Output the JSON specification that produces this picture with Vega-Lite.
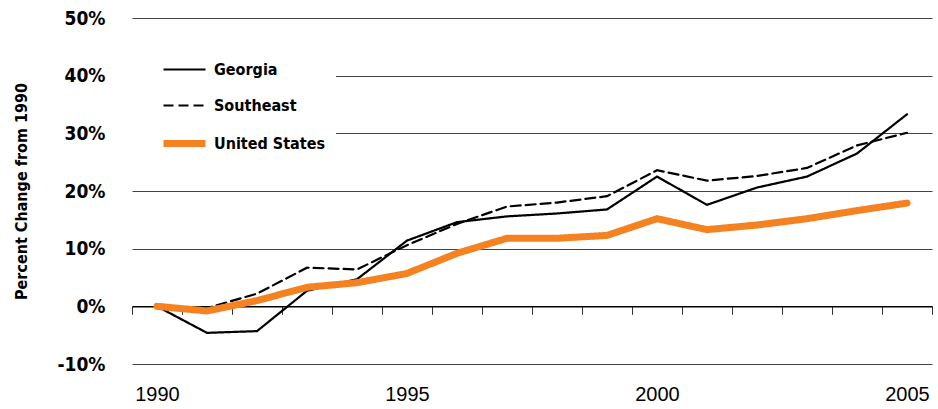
{
  "$schema": "https://vega.github.io/schema/vega-lite/v6.json",
  "width": 800,
  "height": 346,
  "autosize": "none",
  "padding": {"left": 132, "top": 18, "right": 6, "bottom": 45},
  "background": "white",
  "config": {"view": {"stroke": null}},
  "data": {"values": [
    {"year": 1990, "region": "Georgia", "pct": 0},
    {"year": 1991, "region": "Georgia", "pct": -4.6},
    {"year": 1992, "region": "Georgia", "pct": -4.3},
    {"year": 1993, "region": "Georgia", "pct": 2.7},
    {"year": 1994, "region": "Georgia", "pct": 4.7},
    {"year": 1995, "region": "Georgia", "pct": 11.4},
    {"year": 1996, "region": "Georgia", "pct": 14.6},
    {"year": 1997, "region": "Georgia", "pct": 15.6},
    {"year": 1998, "region": "Georgia", "pct": 16.1},
    {"year": 1999, "region": "Georgia", "pct": 16.8},
    {"year": 2000, "region": "Georgia", "pct": 22.5},
    {"year": 2001, "region": "Georgia", "pct": 17.6},
    {"year": 2002, "region": "Georgia", "pct": 20.6},
    {"year": 2003, "region": "Georgia", "pct": 22.5},
    {"year": 2004, "region": "Georgia", "pct": 26.5},
    {"year": 2005, "region": "Georgia", "pct": 33.3},
    {"year": 1990, "region": "Southeast", "pct": 0},
    {"year": 1991, "region": "Southeast", "pct": -0.3},
    {"year": 1992, "region": "Southeast", "pct": 2.2},
    {"year": 1993, "region": "Southeast", "pct": 6.7},
    {"year": 1994, "region": "Southeast", "pct": 6.4},
    {"year": 1995, "region": "Southeast", "pct": 10.6},
    {"year": 1996, "region": "Southeast", "pct": 14.3},
    {"year": 1997, "region": "Southeast", "pct": 17.3},
    {"year": 1998, "region": "Southeast", "pct": 18.0},
    {"year": 1999, "region": "Southeast", "pct": 19.1},
    {"year": 2000, "region": "Southeast", "pct": 23.6},
    {"year": 2001, "region": "Southeast", "pct": 21.8},
    {"year": 2002, "region": "Southeast", "pct": 22.6},
    {"year": 2003, "region": "Southeast", "pct": 24.0},
    {"year": 2004, "region": "Southeast", "pct": 27.9},
    {"year": 2005, "region": "Southeast", "pct": 30.1},
    {"year": 1990, "region": "United States", "pct": 0},
    {"year": 1991, "region": "United States", "pct": -0.8},
    {"year": 1992, "region": "United States", "pct": 1.0},
    {"year": 1993, "region": "United States", "pct": 3.3},
    {"year": 1994, "region": "United States", "pct": 4.1},
    {"year": 1995, "region": "United States", "pct": 5.7},
    {"year": 1996, "region": "United States", "pct": 9.2},
    {"year": 1997, "region": "United States", "pct": 11.8},
    {"year": 1998, "region": "United States", "pct": 11.8},
    {"year": 1999, "region": "United States", "pct": 12.3},
    {"year": 2000, "region": "United States", "pct": 15.2},
    {"year": 2001, "region": "United States", "pct": 13.3},
    {"year": 2002, "region": "United States", "pct": 14.1},
    {"year": 2003, "region": "United States", "pct": 15.2},
    {"year": 2004, "region": "United States", "pct": 16.6},
    {"year": 2005, "region": "United States", "pct": 17.9}
  ]},
  "resolve": {"axis": {"x": "independent"}},
  "layer": [
    {
      "mark": {"type": "rule", "opacity": 0},
      "encoding": {
        "x": {
          "field": "year", "type": "quantitative",
          "scale": {"domain": [1989.5, 2005.5], "nice": false, "zero": false},
          "axis": {
            "orient": "bottom",
            "offset": -57.67,
            "values": [1989.5, 1990.5, 1991.5, 1992.5, 1993.5, 1994.5, 1995.5, 1996.5, 1997.5, 1998.5, 1999.5, 2000.5, 2001.5, 2002.5, 2003.5, 2004.5, 2005.5],
            "labels": false, "title": null, "grid": false,
            "domain": true, "domainColor": "#000", "domainWidth": 1.5,
            "ticks": true, "tickSize": 8, "tickColor": "#333", "tickWidth": 1
          }
        }
      }
    },
    {
      "mark": {"type": "line", "strokeCap": "round", "strokeJoin": "miter"},
      "encoding": {
        "x": {
          "field": "year", "type": "quantitative",
          "scale": {"domain": [1989.5, 2005.5], "nice": false, "zero": false},
          "axis": {
            "orient": "bottom",
            "values": [1990, 1995, 2000, 2005], "format": "d",
            "title": null, "grid": false, "domain": false, "ticks": false,
            "labelPadding": 20, "labelFont": "Liberation Sans", "labelFontSize": 20,
            "labelColor": "#000", "labelFontWeight": "normal"
          }
        },
        "y": {
          "field": "pct", "type": "quantitative",
          "scale": {"domain": [-10, 50], "nice": false, "zero": false},
          "axis": {
            "values": [-10, 0, 10, 20, 30, 40, 50],
            "labelExpr": "datum.value + '%'",
            "title": "Percent Change from 1990",
            "titleFont": "'DejaVu Sans Condensed', Roboto, sans-serif", "titleFontSize": 16, "titleFontWeight": "bold",
            "titleColor": "#000", "titlePadding": 27,
            "labelFont": "'DejaVu Sans Condensed', Roboto, sans-serif", "labelFontSize": 19, "labelFontWeight": "bold",
            "labelColor": "#000", "labelPadding": 27,
            "domain": false, "ticks": false,
            "grid": true, "gridColor": "#444", "gridWidth": 1
          }
        },
        "color": {
          "field": "region", "type": "nominal",
          "scale": {"domain": ["Georgia", "Southeast", "United States"], "range": ["#000000", "#000000", "#f58220"]},
          "legend": {
            "title": null, "orient": "none", "legendX": 0, "legendY": 19,
            "fillColor": "white", "padding": 10,
            "symbolType": "stroke", "symbolSize": 1764, "symbolOffset": 18,
            "labelOffset": 5, "rowPadding": 5,
            "labelFont": "'DejaVu Sans Condensed', Roboto, sans-serif", "labelFontSize": 16, "labelFontWeight": "bold", "labelColor": "#000"
          }
        },
        "strokeDash": {
          "field": "region", "type": "nominal",
          "scale": {"domain": ["Georgia", "Southeast", "United States"], "range": [[1, 0], [10, 5], [1, 0]]}
        },
        "strokeWidth": {
          "field": "region", "type": "nominal",
          "scale": {"type": "ordinal", "domain": ["Georgia", "Southeast", "United States"], "range": [2.2, 2.2, 7]}
        }
      }
    }
  ]
}
